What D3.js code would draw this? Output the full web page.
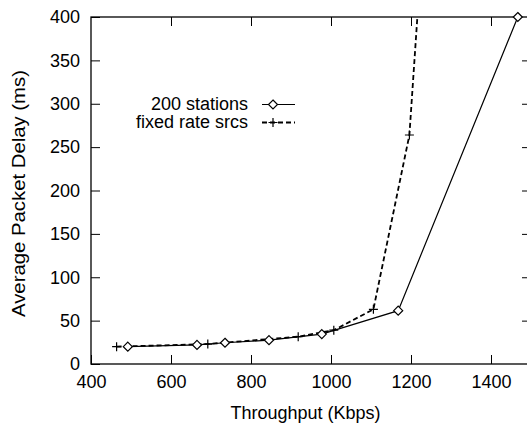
<!DOCTYPE html>
<html>
<head>
<meta charset="utf-8">
<script src="https://cdn.jsdelivr.net/npm/d3@7"></script>
<style>
  body { margin: 0; background: #fff; }
  svg { display: block; font-family: "Liberation Sans", Arial, sans-serif; }
</style>
</head>
<body>
<svg id="chart"></svg>
<script>
// values
const stationsX = [492, 665, 735, 845, 977, 1168, 1467];
const stationsY = [20, 22, 24.5, 27.5, 34.5, 61.5, 400];
const fixedX = [464, 692, 918, 1007, 1106, 1196, 1235];
const fixedY = [20, 23, 31.5, 39, 63, 264, 530];
const xTicks = [400, 600, 800, 1000, 1200, 1400];
const yTicks = [0, 50, 100, 150, 200, 250, 300, 350, 400];
const seriesNames = ["200 stations", "fixed rate srcs"];

const width = 527, height = 426;
const margin = { left: 91, top: 17, right: -4, bottom: 62 };
const fontSize = 18;

const svg = d3.select("#chart")
    .attr("width", width)
    .attr("height", height);

const x = d3.scaleLinear()
    .domain([400, 1500])
    .range([margin.left, width - margin.right]);
const y = d3.scaleLinear()
    .domain([0, 400])
    .range([height - margin.bottom, margin.top]);

svg.append("defs").append("clipPath")
    .attr("id", "clip")
    .append("rect")
    .attr("x", x.range()[0]).attr("y", y.range()[1])
    .attr("width", x.range()[1] - x.range()[0])
    .attr("height", y.range()[0] - y.range()[1]);

const tickLen = 9;

// axes, ticks point inward
const styleAxis = g => {
    g.attr("font-size", fontSize).attr("font-family", "Liberation Sans, Arial, sans-serif");
    g.select(".domain").remove();
    g.selectAll("line").attr("stroke", "#000").attr("stroke-width", 1);
    g.selectAll("text").attr("fill", "#000");
};

svg.append("g")
    .attr("transform", `translate(0,${y(0)})`)
    .call(d3.axisBottom(x).tickValues(xTicks).tickSizeInner(-tickLen)
        .tickPadding(11).tickFormat(d3.format("d")))
    .call(styleAxis);

svg.append("g")
    .attr("transform", `translate(0,${y(400)})`)
    .call(d3.axisTop(x).tickValues(xTicks.slice(1)).tickSizeInner(-tickLen).tickFormat(""))
    .call(styleAxis);

svg.append("g")
    .attr("transform", `translate(${x(400)},0)`)
    .call(d3.axisLeft(y).tickValues(yTicks).tickSizeInner(-tickLen).tickPadding(11))
    .call(styleAxis);

svg.append("g")
    .attr("transform", `translate(${x(1500)},0)`)
    .call(d3.axisRight(y).tickValues(yTicks.slice(1, -1)).tickSizeInner(-tickLen).tickFormat(""))
    .call(styleAxis);

// frame
svg.append("rect")
    .attr("x", x(400)).attr("y", y(400))
    .attr("width", x(1500) - x(400)).attr("height", y(0) - y(400))
    .attr("fill", "none").attr("stroke", "#000").attr("stroke-width", 1.3);

// axis titles
svg.append("text")
    .attr("x", 305.5).attr("y", 419)
    .attr("text-anchor", "middle").attr("font-size", fontSize)
    .text("Throughput (Kbps)");

svg.append("text")
    .attr("transform", "translate(25,193.5) rotate(-90)")
    .attr("text-anchor", "middle").attr("font-size", fontSize)
    .attr("textLength", 247).attr("lengthAdjust", "spacingAndGlyphs")
    .text("Average Packet Delay (ms)");

const line = d3.line().x(d => x(d[0])).y(d => y(d[1]));
const stations = d3.zip(stationsX, stationsY);
const fixed = d3.zip(fixedX, fixedY);

const diamond = (g, cx, cy) => g.append("path")
    .attr("d", `M${cx},${cy - 4.5}L${cx + 4.5},${cy}L${cx},${cy + 4.5}L${cx - 4.5},${cy}Z`)
    .attr("fill", "#fff").attr("stroke", "#000").attr("stroke-width", 1.2);
const plus = (g, cx, cy) => g.append("path")
    .attr("d", `M${cx - 4.5},${cy}H${cx + 4.5}M${cx},${cy - 4.5}V${cy + 4.5}`)
    .attr("stroke", "#000").attr("stroke-width", 1.2);

const plot = svg.append("g").attr("clip-path", "url(#clip)");

plot.append("path")
    .datum(fixed)
    .attr("d", line)
    .attr("fill", "none").attr("stroke", "#000")
    .attr("stroke-width", 1.8).attr("stroke-dasharray", "5,3");

plot.append("path")
    .datum(stations)
    .attr("d", line)
    .attr("fill", "none").attr("stroke", "#000").attr("stroke-width", 1.2);

const marks = svg.append("g");
fixed.filter(d => d[1] <= 400).forEach(d => plus(marks, x(d[0]), y(d[1])));
stations.forEach(d => diamond(marks, x(d[0]), y(d[1])));

// legend
const legend = svg.append("g");
const legX = 248, legY = [104.5, 122.5];
seriesNames.forEach((name, i) => {
    legend.append("text")
        .attr("x", legX).attr("y", legY[i] + 5.5)
        .attr("text-anchor", "end").attr("font-size", fontSize)
        .text(name);
    legend.append("line")
        .attr("x1", legX + 14).attr("x2", legX + 47)
        .attr("y1", legY[i]).attr("y2", legY[i])
        .attr("stroke", "#000")
        .attr("stroke-width", i === 0 ? 1.2 : 1.8)
        .attr("stroke-dasharray", i === 0 ? null : "5,3");
    if (i === 0) diamond(legend, legX + 25, legY[i]);
    else plus(legend, legX + 25, legY[i]);
});
</script>
</body>
</html>
